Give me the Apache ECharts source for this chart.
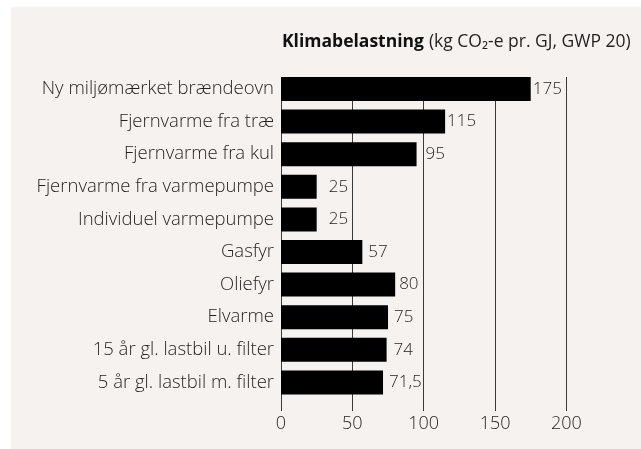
<!DOCTYPE html>
<html>
<head>
<meta charset="utf-8">
<script src="https://cdn.jsdelivr.net/npm/echarts@6/dist/echarts.min.js"></script>
<style>
html,body{margin:0;padding:0;background:#ffffff;}
#chart{width:641px;height:449px;}
</style>
</head>
<body>
<div id="chart"></div>
<script>
const categories = [
  "Ny miljømærket brændeovn",
  "Fjernvarme fra træ",
  "Fjernvarme fra kul",
  "Fjernvarme fra varmepumpe",
  "Individuel varmepumpe",
  "Gasfyr",
  "Oliefyr",
  "Elvarme",
  "15 år gl. lastbil u. filter",
  "5 år gl. lastbil m. filter"
];
const values = [175, 115, 95, 25, 25, 57, 80, 75, 74, 71.5];
const valueLabels = ["175", "115", "95", "25", "25", "57", "80", "75", "74", "71,5"];
const axisTicks = [0, 50, 100, 150, 200];
const titleBold = "Klimabelastning";
const titleRest = "(kg CO₂-e pr. GJ, GWP 20)";

const FONT = "Open Sans";
const TXT = "#231f20";
const labelGap = [2, 2, 9, 12, 12, 6, 4, 6, 7, 6];

const chart = echarts.init(document.getElementById('chart'), null, {renderer: 'canvas'});
const option = {
  backgroundColor: '#ffffff',
  animation: false,
  graphic: [{
    type: 'rect', z: -10, silent: true,
    shape: {x: 11, y: 7, width: 640, height: 450},
    style: {fill: '#f5f2ef'}
  }],
  title: {
    left: 277, top: 28,
    text: '{b|' + titleBold + '} {r|' + titleRest + '}',
    textStyle: {
      rich: {
        b: {fontFamily: FONT, fontWeight: 700, fontSize: 17.5, color: '#111'},
        r: {fontFamily: FONT, fontWeight: 400, fontSize: 17.5, color: TXT}
      }
    }
  },
  grid: [
    {left: 281, right: 74.6, top: 72.7, height: 326, containLabel: false},
    {left: 281, right: 74.6, top: 77, height: 334, containLabel: false}
  ],
  xAxis: [
    {gridIndex: 0, type: 'value', min: axisTicks[0], max: axisTicks[axisTicks.length - 1], interval: 50,
     show: false},
    {gridIndex: 1, type: 'value', min: axisTicks[0], max: axisTicks[axisTicks.length - 1], interval: 50,
     axisLine: {show: false}, axisTick: {show: false},
     splitLine: {show: true, lineStyle: {color: '#3a3a3a', width: 1}},
     axisLabel: {margin: 4, fontFamily: FONT, fontWeight: 300, fontSize: 18, color: TXT}}
  ],
  yAxis: [
    {gridIndex: 0, type: 'category', data: categories, inverse: true,
     axisLine: {show: false}, axisTick: {show: false}, splitLine: {show: false},
     axisLabel: {margin: 7, fontFamily: FONT, fontWeight: 300, fontSize: 18.5, color: TXT}},
    {gridIndex: 1, type: 'category', data: [''], show: false}
  ],
  series: [
    {
      type: 'bar', xAxisIndex: 0, yAxisIndex: 0, z: 3,
      barWidth: 24,
      itemStyle: {color: '#000000'},
      data: values.map((v, i) => ({
        value: v,
        label: {
          show: true, position: 'right', distance: labelGap[i],
          formatter: valueLabels[i],
          fontFamily: FONT, fontWeight: 300, fontSize: 17, color: TXT
        }
      }))
    },
    {type: 'bar', xAxisIndex: 1, yAxisIndex: 1, data: [], silent: true}
  ]
};
chart.setOption(option);
</script>
</body>
</html>
